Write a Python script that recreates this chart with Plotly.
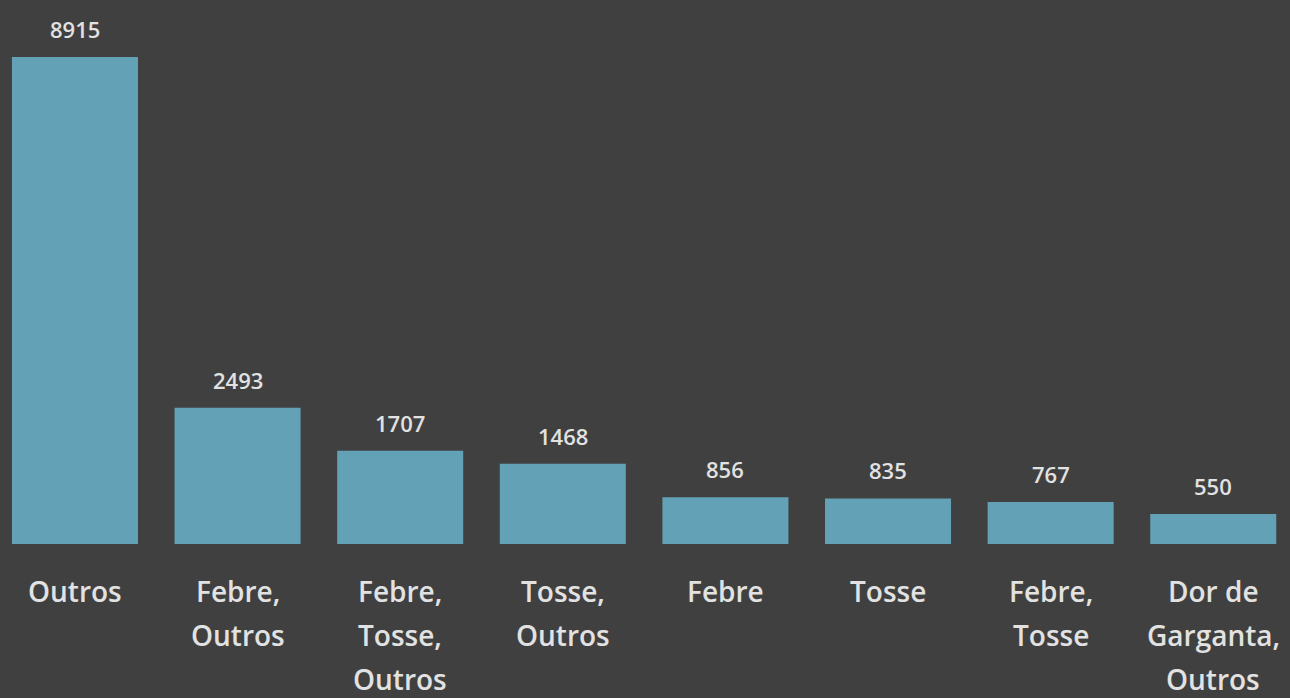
import plotly.graph_objects as go

# Symptom combinations and case counts
categories = ["Outros", "Febre, Outros", "Febre, Tosse, Outros", "Tosse, Outros",
              "Febre", "Tosse", "Febre, Tosse", "Dor de Garganta, Outros"]
axis_lines = [["Outros"], ["Febre,", "Outros"], ["Febre,", "Tosse,", "Outros"],
              ["Tosse,", "Outros"], ["Febre"], ["Tosse"], ["Febre,", "Tosse"],
              ["Dor de", "Garganta,", "Outros"]]
counts = [8915, 2493, 1707, 1468, 856, 835, 767, 550]

BG = "#404040"
BAR = "#63a2b6"
TXT = "#e2e2e2"
FONT = "Open Sans"

fig = go.Figure(go.Bar(x=categories, y=counts, marker=dict(color=BAR, line=dict(width=0)),
                       hoverinfo="x+y"))

annotations = []
# value labels above each bar
for cat, val in zip(categories, counts):
    annotations.append(dict(x=cat, y=val, xref="x", yref="y", text=str(val),
                            showarrow=False, yanchor="middle", yshift=28,
                            font=dict(family=FONT, size=22, color=TXT, weight=600)))
# wrapped category names under the baseline, one line per annotation
for cat, lines in zip(categories, axis_lines):
    for i, line in enumerate(lines):
        annotations.append(dict(x=cat, y=0, xref="x", yref="y", text=line,
                                showarrow=False, yanchor="middle", yshift=-47 - 44 * i,
                                font=dict(family=FONT, size=28, color=TXT, weight=600)))

fig.update_layout(
    width=1290, height=698,
    margin=dict(l=0, r=0, t=0, b=154),
    paper_bgcolor=BG, plot_bgcolor=BG,
    bargap=0.225,
    showlegend=False,
    annotations=annotations,
    xaxis=dict(range=[-0.461, 7.472], showticklabels=False, showgrid=False,
               zeroline=False, showline=False),
    yaxis=dict(range=[0, 9958], visible=False, showgrid=False, zeroline=False),
)

fig.write_html("out.html")
